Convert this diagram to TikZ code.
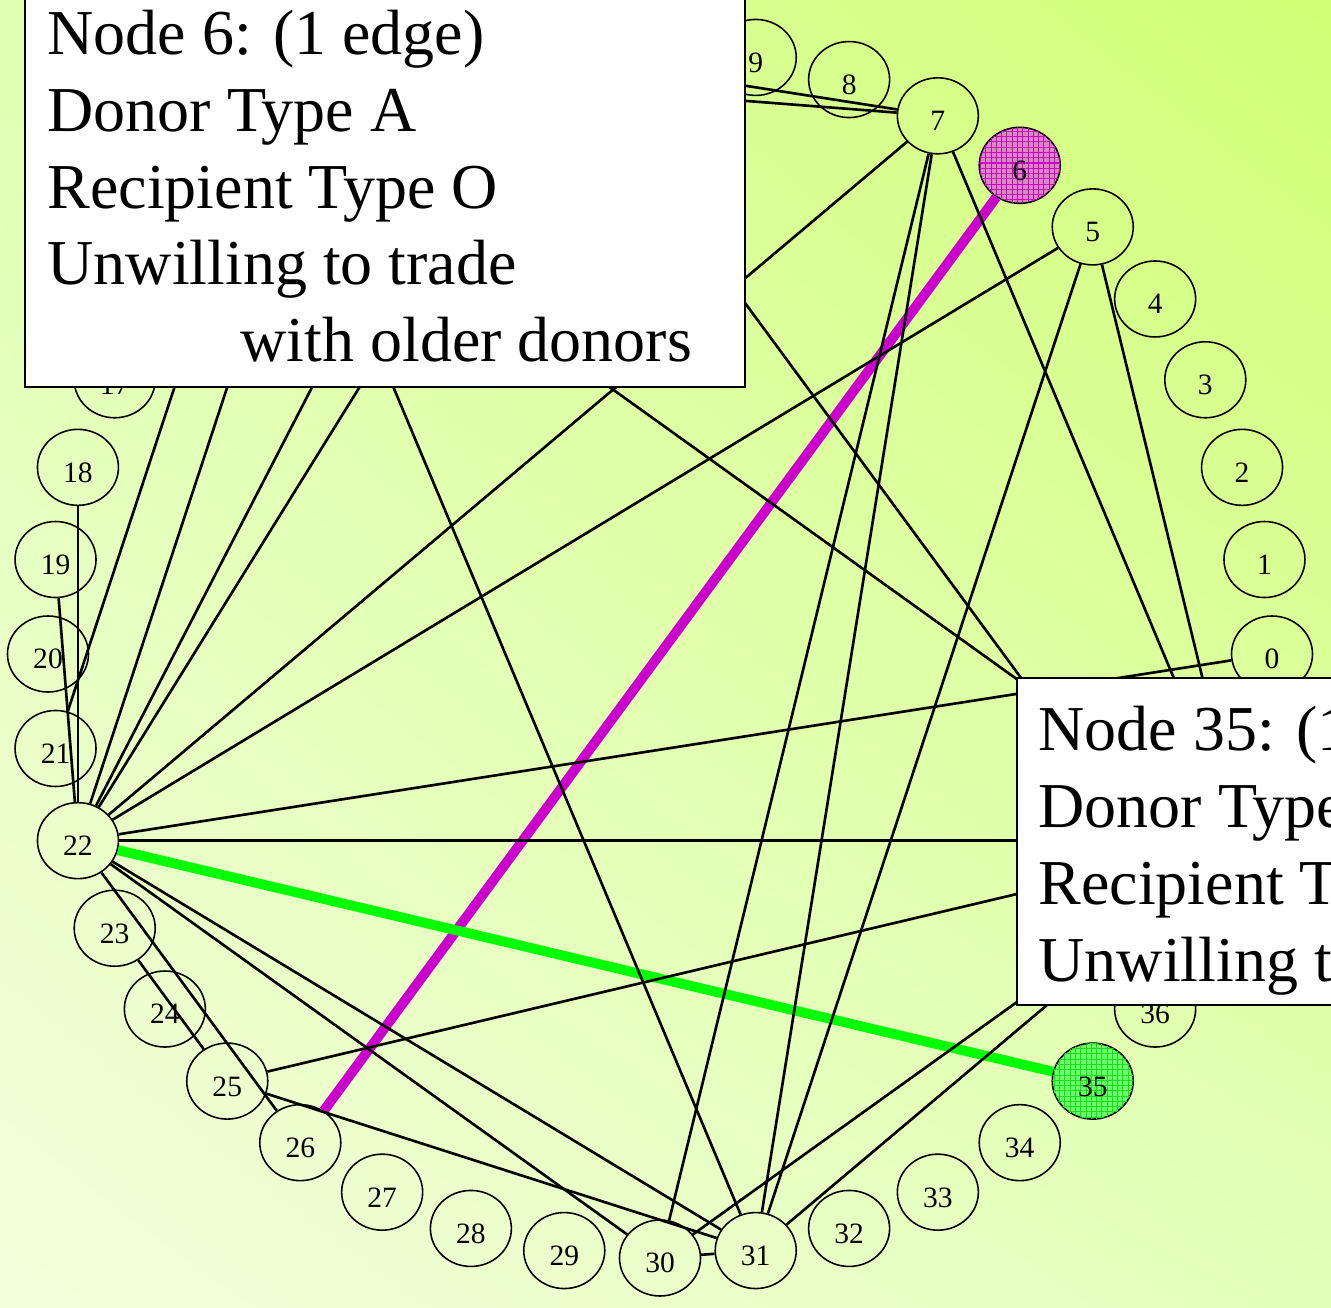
\documentclass[tikz,border=0pt]{standalone}
\usepackage{fontspec}
\setmainfont{Liberation Serif}
\usepackage{tikz}
\usetikzlibrary{shapes.geometric,patterns.meta,shadings}
\definecolor{BG_TopRight}{RGB}{208,255,116}
\definecolor{BG_TopLeft}{RGB}{224,255,176}
\definecolor{BG_BotLeft}{RGB}{242,255,220}
\definecolor{BG_BotRight}{RGB}{228,255,186}
\definecolor{Pair_Magenta}{RGB}{204,0,204}
\definecolor{Pair_Green}{RGB}{0,255,0}
\definecolor{Six_Fill}{RGB}{214,140,186}
\definecolor{Ftfive_Fill}{RGB}{110,255,110}
\definecolor{Ftfive_Grid}{RGB}{20,225,20}

\tikzset{
  vtx/.style={draw, ellipse, line width=0.45pt, inner sep=0pt,
    minimum width=0.81cm, minimum height=0.76cm,
    font=\fontsize{8.4}{10}\selectfont, text height=8.5pt, text depth=0pt},
  plainlink/.style={line width=0.75pt},
  pairlink/.style={line width=2.8pt},
  infobox/.style={draw, fill=white, line width=0.6pt},
  infotext/.style={anchor=north west, inner sep=0pt, align=left,
    font=\fontsize{18.2}{21.9}\selectfont},
}

\begin{document}
\begin{tikzpicture}
    \useasboundingbox (0,0) rectangle (13.31,13.07);
    \clip (0,0) rectangle (13.31,13.07);

    % Background gradient
    \shade[upper left=BG_TopLeft, upper right=BG_TopRight,
           lower left=BG_BotLeft, lower right=BG_BotRight] (0,0) rectangle (13.31,13.07);

    % Ring of 40 pairs
    \begin{scope}[shift={(6.60,6.53)}]
        \foreach \k in {0,1,2,3,4,5,7,8,...,34,36,37,38,39}
            \node[vtx] (n\k) at ({9*\k}:6.12cm and 6.04cm) {\k};
        \node[vtx, fill=Six_Fill,
              postaction={pattern={Hatch[distance=1.5pt,line width=0.3pt]}, pattern color=Pair_Magenta}]
              (n6) at (54:6.12cm and 6.04cm) {6};
        \node[vtx, fill=Ftfive_Fill,
              postaction={pattern={Hatch[distance=1.5pt,line width=0.3pt]}, pattern color=Ftfive_Grid}]
              (n35) at (315:6.12cm and 6.04cm) {35};
    \end{scope}

    % Highlighted exchanges
    \draw[pairlink, Pair_Magenta] (n6) -- (n26);
    \draw[pairlink, Pair_Green] (n22) -- (n35);

    % Compatibility edges
    \foreach \a/\b in {22/18, 22/19, 21/15, 22/14, 22/12, 22/11, 22/7, 22/5,
                       22/0, 22/38, 22/30, 22/31, 22/26, 23/25, 25/38, 25/31,
                       30/31, 7/30, 7/31, 5/31, 14/31, 30/38, 31/38, 7/38,
                       5/38, 14/38, 11/37, 11/7, 12/7}
        \draw[plainlink] (n\a) -- (n\b);

    % Info box for node 6
    \draw[infobox] (0.25,13.40) rectangle (7.45,9.20);
    \node[infotext] (info6) at (0.47,12.98)
        {Node 6: (1 edge)\\Donor Type A\\Recipient Type O\\Unwilling to trade\\\hspace*{1.93cm}with older donors};

    % Info box for node 35
    \draw[infobox] (10.17,6.29) rectangle (13.60,3.02);
    \node[infotext] (info35) at (10.38,6.02)
        {Node 35: (1 edge)\\Donor Type B\\Recipient Type A\\Unwilling to trade};

\end{tikzpicture}
\end{document}
